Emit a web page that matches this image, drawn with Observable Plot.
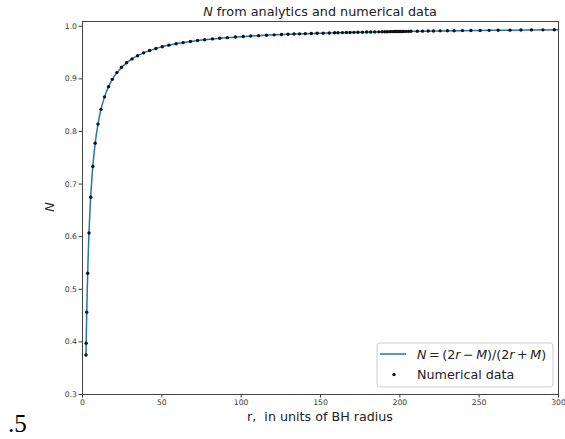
<!DOCTYPE html>
<html>
<head>
<meta charset="utf-8">
<script src="https://cdn.jsdelivr.net/npm/d3@7"></script>
<script src="https://cdn.jsdelivr.net/npm/@observablehq/plot@0.6"></script>
<style>
  html, body { margin: 0; padding: 0; background: white; }
  #chart svg { display: block; }
</style>
</head>
<body>
<div id="chart"></div>
<script>
// Numerical data (r in units of BH radius, N)
const numR = [2.2, 2.32, 2.68, 3.26, 4.09, 5.15, 6.5, 8.0, 9.75, 11.66, 13.9, 16.4, 18.8, 21.7, 24.6, 27.8, 31.2, 34.7, 38.5, 42.3, 46.3, 50.3, 54.5, 59, 63.4, 68, 72.5, 77, 81.9, 86.5, 91.3, 96.4, 101.3, 106, 111, 116, 120.8, 125.4, 129.5, 133.3, 136.8, 140.4, 144.2, 147.9, 151.7, 155.5, 158.9, 161, 163.8, 166.3, 168.6, 171.1, 173.6, 176.4, 179.1, 181.6, 184.2, 186.7, 188.8, 190.5, 192, 193.5, 194.5, 195.5, 196.5, 197.5, 198.5, 199.5, 200.5, 201.5, 202.5, 204, 205.5, 207, 211, 214.3, 217.9, 221.2, 225.4, 230, 234.2, 239.5, 244.8, 250.6, 256.3, 262, 269.4, 276.3, 283, 290.2, 297.4];
const numN = [0.375, 0.3976, 0.4565, 0.5305, 0.6071, 0.6748, 0.7333, 0.7778, 0.8140, 0.8420, 0.8658, 0.8851, 0.8990, 0.9119, 0.9219, 0.9306, 0.9379, 0.9440, 0.9494, 0.9538, 0.9577, 0.9610, 0.9640, 0.9667, 0.9689, 0.9710, 0.9728, 0.9744, 0.9759, 0.9771, 0.9783, 0.9795, 0.9804, 0.9813, 0.9821, 0.9829, 0.9836, 0.9842, 0.9847, 0.9851, 0.9855, 0.9859, 0.9862, 0.9866, 0.9869, 0.9872, 0.9875, 0.9877, 0.9879, 0.9880, 0.9882, 0.9884, 0.9885, 0.9887, 0.9889, 0.9890, 0.9892, 0.9893, 0.9895, 0.9896, 0.9896, 0.9897, 0.9898, 0.9898, 0.9899, 0.9899, 0.9900, 0.9900, 0.9901, 0.9901, 0.9902, 0.9902, 0.9903, 0.9904, 0.9906, 0.9907, 0.9909, 0.9910, 0.9912, 0.9913, 0.9915, 0.9917, 0.9919, 0.9921, 0.9922, 0.9924, 0.9926, 0.9928, 0.9930, 0.9931, 0.9933];

// Analytic curve N = (2r - M)/(2r + M), sampled points
const lineR = [2.2, 2.5, 3, 3.5, 4, 5, 6, 7, 8, 10, 12, 14, 17, 20, 25, 30, 40, 50, 60, 80, 100, 130, 160, 200, 250, 300];
const lineN = [0.375, 0.4286, 0.5, 0.5556, 0.6, 0.6667, 0.7143, 0.75, 0.7778, 0.8182, 0.8462, 0.8667, 0.8889, 0.9048, 0.9231, 0.9355, 0.9512, 0.9608, 0.9672, 0.9753, 0.9802, 0.9847, 0.9876, 0.9900, 0.9920, 0.9934];

const xTicks = [0, 50, 100, 150, 200, 250, 300];
const yTicks = [0.3, 0.4, 0.5, 0.6, 0.7, 0.8, 0.9, 1.0];

const numData = numR.map((r, i) => ({r, N: numN[i]}));
const lineData = lineR.map((r, i) => ({r, N: lineN[i]}));

const W = 565, H = 439;
const mL = 82, mR = 7, mT = 21, mB = 45;

const chart = Plot.plot({
  width: W, height: H,
  marginLeft: mL, marginRight: mR, marginTop: mT, marginBottom: mB,
  style: {fontFamily: "DejaVu Sans", fontSize: "7.7px", color: "#3a3a3a", background: "white", overflow: "visible"},
  x: {domain: [0, 300], ticks: xTicks, tickSize: 3.5, tickPadding: 2, label: null},
  y: {domain: [0.3, 1.009], ticks: yTicks, tickFormat: d3.format(".1f"), tickSize: 3.5, tickPadding: 2, label: null},
  marks: [
    Plot.line(lineData, {x: "r", y: "N", stroke: "#1f77b4", strokeWidth: 1.5, curve: "monotone-x"}),
    Plot.dot(numData, {x: "r", y: "N", r: 1.7, fill: "#111", stroke: null}),
    Plot.frame({stroke: "#444", strokeWidth: 1})
  ]
});
document.getElementById("chart").appendChild(chart);

const svg = d3.select(chart);
const font = "DejaVu Sans";

// Title
const title = svg.append("text")
  .attr("x", mL + (W - mL - mR) / 2).attr("y", 16)
  .attr("text-anchor", "middle").attr("font-family", font).attr("font-size", 12.8).attr("fill", "#222");
title.append("tspan").attr("font-style", "italic").text("N");
title.append("tspan").text(" from analytics and numerical data");

// X label
svg.append("text")
  .attr("x", mL + (W - mL - mR) / 2).attr("y", 421)
  .attr("text-anchor", "middle").attr("font-family", font).attr("font-size", 12.7).attr("fill", "#222")
  .attr("xml:space", "preserve")
  .text("r,  in units of BH radius");

// Y label
svg.append("text")
  .attr("transform", "translate(54,207) rotate(-90)")
  .attr("text-anchor", "middle").attr("font-family", font).attr("font-size", 12.7)
  .attr("font-style", "italic").attr("fill", "#222")
  .text("N");

// Legend
const lg = svg.append("g").attr("text-anchor", "start");
lg.append("rect").attr("x", 377).attr("y", 343).attr("width", 176).attr("height", 44)
  .attr("rx", 3).attr("fill", "white").attr("fill-opacity", 0.8).attr("stroke", "#ccc").attr("stroke-width", 1);
lg.append("line").attr("x1", 380).attr("x2", 406).attr("y1", 354).attr("y2", 354)
  .attr("stroke", "#1f77b4").attr("stroke-width", 1.5);
const eq = lg.append("text").attr("x", 417).attr("y", 358.5).attr("text-anchor", "start")
  .attr("font-family", font).attr("font-size", 12.7).attr("fill", "#222").attr("xml:space", "preserve");
eq.append("tspan").attr("font-style", "italic").text("N");
eq.append("tspan").text("\u2009=\u2009(2");
eq.append("tspan").attr("font-style", "italic").text("r");
eq.append("tspan").text("\u2009−\u2009");
eq.append("tspan").attr("font-style", "italic").text("M");
eq.append("tspan").text(")/(2");
eq.append("tspan").attr("font-style", "italic").text("r");
eq.append("tspan").text("\u2009+\u2009");
eq.append("tspan").attr("font-style", "italic").text("M");
eq.append("tspan").text(")");
lg.append("circle").attr("cx", 394).attr("cy", 374.5).attr("r", 1.7).attr("fill", "#111");
lg.append("text").attr("x", 417).attr("y", 379).attr("text-anchor", "start")
  .attr("font-family", font).attr("font-size", 12.7).attr("fill", "#222")
  .text("Numerical data");

// Stray ".5" below the figure
svg.append("text").attr("x", 8).attr("y", 432).attr("text-anchor", "start")
  .attr("font-family", "Liberation Serif").attr("font-size", 25).attr("fill", "#000")
  .text(".5");
</script>
</body>
</html>
